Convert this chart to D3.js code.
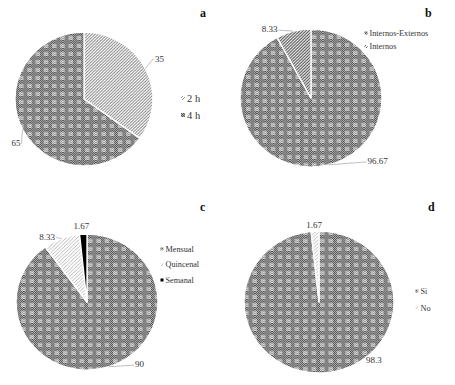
<!DOCTYPE html>
<html><head><meta charset="utf-8">
<script src="https://cdn.jsdelivr.net/npm/d3@7/dist/d3.min.js"></script>
<style>html,body{margin:0;padding:0;background:#fff;}svg{display:block;}</style>
</head><body>
<svg id="chart" width="455" height="385"></svg>
<script>
// ---- data ----
const categoriesA = ["2 h", "4 h"];
const valuesA = [35, 65];
const labelsA = ["35", "65"];

const categoriesB = ["Internos-Externos", "Internos"];
const valuesB = [96.67, 8.33];
const labelsB = ["96.67", "8.33"];

const categoriesC = ["Mensual", "Quincenal", "Semanal"];
const valuesC = [90, 8.33, 1.67];
const labelsC = ["90", "8.33", "1.67"];

const categoriesD = ["Si", "No"];
const valuesD = [98.3, 1.67];
const labelsD = ["98.3", "1.67"];

const panelNames = ["a", "b", "c", "d"];

// ---- layout / style ----
const svg = d3.select("#chart");
const defs = svg.append("defs");

function plaid(id) {
  const p = defs.append("pattern").attr("id", id).attr("patternUnits", "userSpaceOnUse")
    .attr("width", 8).attr("height", 8);
  for (let y = 0; y < 8; y++) for (let x = 0; x < 8; x++) {
    const inLight = (x >= 1 && x <= 4 && y >= 1 && y <= 4);
    const odd = (x + y) % 2 === 1;
    const c = inLight ? (odd ? "#d6d6d6" : "#9c9c9c") : (odd ? "#b0b0b0" : "#545454");
    p.append("rect").attr("x", x).attr("y", y).attr("width", 1).attr("height", 1)
      .attr("fill", c).attr("shape-rendering", "crispEdges");
  }
}
function hatch(id, size, color, bg, width) {
  const p = defs.append("pattern").attr("id", id).attr("patternUnits", "userSpaceOnUse")
    .attr("width", size).attr("height", size);
  p.append("rect").attr("width", size).attr("height", size).attr("fill", bg);
  p.append("path").attr("d", `M0,${size} L${size},0 M${-size/2},${size/2} L${size/2},${-size/2} M${size/2},${size*1.5} L${size*1.5},${size/2}`)
    .attr("stroke", color).attr("stroke-width", width);
}
plaid("plaid");
hatch("hatchLight", 3, "#8a8a8a", "#ffffff", 0.9);
hatch("hatchDark", 3, "#555555", "#f0f0f0", 1.0);
hatch("hatchPale", 3.5, "#a8a8a8", "#ffffff", 0.8);

const panels = [
  { cats: categoriesA, vals: valuesA, labs: labelsA, name: panelNames[0],
    cx: 84, cy: 99, rx: 69, ry: 67,
    fills: ["url(#hatchLight)", "url(#plaid)"],
    labelOff: [{dx: 9.5, dy: -10, anchor: "start", lead: [[153, 59]]}, {dx: -2, dy: 13, anchor: "end", lead: []}],
    legend: {x: 183, y: 98, step: 17, size: 10.5, mark: 4},
    letter: {x: 200, y: 17} },
  { cats: categoriesB, vals: valuesB, labs: labelsB, name: panelNames[1],
    cx: 311, cy: 98, rx: 71, ry: 69,
    fills: ["url(#plaid)", "url(#hatchDark)"],
    labelOff: [{dx: 39, dy: -4, anchor: "start", lead: []}, {dx: -16, dy: -2, anchor: "end", lead: []}],
    legend: {x: 366, y: 33, step: 13.5, size: 8.2, mark: 3},
    letter: {x: 425, y: 17} },
  { cats: categoriesC, vals: valuesC, labs: labelsC, name: panelNames[2],
    cx: 87, cy: 302, rx: 71, ry: 68,
    fills: ["url(#plaid)", "url(#hatchPale)", "#000000"],
    labelOff: [{dx: 26, dy: -2.5, anchor: "start", lead: []}, {dx: -6.5, dy: -2, anchor: "end", lead: []}, {dx: -2, dy: -8, anchor: "middle", lead: null}],
    legend: {x: 162, y: 249, step: 15.5, size: 8.2, mark: 3},
    letter: {x: 200, y: 211} },
  { cats: categoriesD, vals: valuesD, labs: labelsD, name: panelNames[3],
    cx: 319, cy: 302, rx: 75, ry: 71,
    fills: ["url(#plaid)", "url(#hatchPale)"],
    labelOff: [{dx: 43, dy: -13, anchor: "start", lead: null}, {dx: -1, dy: -6, anchor: "middle", lead: null}],
    legend: {x: 417, y: 291, step: 17, size: 8.2, mark: 3},
    letter: {x: 428, y: 211} }
];

const pie = d3.pie().sort(null).startAngle(0).endAngle(2 * Math.PI);
const font = "'Liberation Serif', 'Times New Roman', serif";

panels.forEach(P => {
  const arcs = pie(P.vals);
  const arc = d3.arc().innerRadius(0).outerRadius(P.ry);
  const g = svg.append("g").attr("transform", `translate(${P.cx},${P.cy}) scale(${P.rx / P.ry},1)`);
  g.selectAll("path").data(arcs).join("path")
    .attr("d", arc)
    .attr("fill", (d, i) => P.fills[i])
    .attr("stroke", "#ffffff").attr("stroke-width", 1.3).attr("stroke-linejoin", "round");

  // data labels
  arcs.forEach((d, i) => {
    const a = (d.startAngle + d.endAngle) / 2;
    const ex = P.cx + P.rx * Math.sin(a);
    const ey = P.cy - P.ry * Math.cos(a);
    const o = P.labelOff[i];
    const lx = ex + o.dx, ly = ey + o.dy;
    if (o.lead !== null) {
      const pts = [[ex, ey]].concat(o.lead).concat([[lx + (o.anchor === "end" ? 1 : -1), ly + 1]]);
      svg.append("path").attr("d", d3.line()(pts)).attr("fill", "none")
        .attr("stroke", "#b0b0b0").attr("stroke-width", 0.8);
    }
    svg.append("text").attr("x", lx).attr("y", ly).attr("dy", "0.35em")
      .attr("text-anchor", o.anchor).attr("font-family", font).attr("font-size", 9)
      .attr("fill", "#333").text(P.labs[i]);
  });

  // legend
  const L = P.legend;
  P.cats.forEach((c, i) => {
    const y = L.y + i * L.step;
    svg.append("rect").attr("x", L.x - L.mark / 2).attr("y", y - L.mark / 2)
      .attr("width", L.mark).attr("height", L.mark).attr("fill", P.fills[i]);
    svg.append("text").attr("x", L.x + L.mark / 2 + 2).attr("y", y).attr("dy", "0.35em")
      .attr("font-family", font).attr("font-size", L.size).attr("fill", "#333").text(c);
  });

  svg.append("text").attr("x", P.letter.x).attr("y", P.letter.y)
    .attr("font-family", font).attr("font-weight", "bold").attr("font-size", 12)
    .attr("fill", "#111").text(P.name);
});
</script>
</body></html>
